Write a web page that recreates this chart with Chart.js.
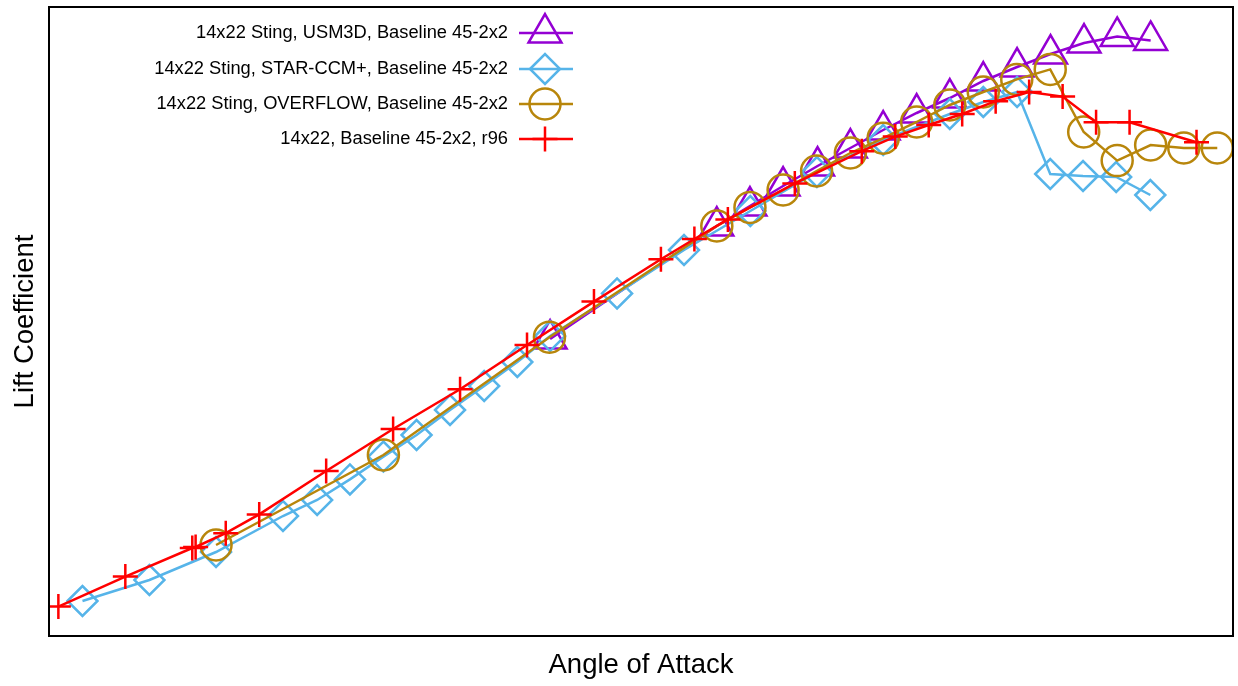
<!DOCTYPE html>
<html lang="en">
<head>
  <meta charset="UTF-8">
  <title>Lift Coefficient vs Angle of Attack</title>
  <script src="https://cdn.jsdelivr.net/npm/chart.js"></script>
  <style>
    html, body {
      margin: 0;
      padding: 0;
      background: #fff;
    }
    canvas {
      display: block;
    }
  </style>
</head>
<body>
  <canvas id="liftChart" width="1238" height="686"></canvas>

  <script>
    // values (no tick labels in the original, units are alpha in deg / CL)
    const usm3dAlpha = [10.69, 15.67, 16.66, 17.65, 18.68, 19.66, 20.64, 21.64, 22.63, 23.63, 24.64, 25.64, 26.64, 27.63, 28.63];
    const usm3dCL    = [1.485, 2.05, 2.15, 2.25, 2.35, 2.44, 2.53, 2.615, 2.69, 2.775, 2.845, 2.91, 2.965, 2.998, 2.978];

    const starAlpha = [-3.28, -1.28, 0.71, 2.71, 3.73, 4.71, 5.71, 6.70, 7.70, 8.72, 9.71, 10.69, 12.69, 14.69, 16.67, 18.66, 20.64, 22.63, 23.63, 24.64, 25.63, 26.61, 27.60, 28.62];
    const starCL    = [0.175, 0.28, 0.42, 0.60, 0.68, 0.783, 0.897, 1.005, 1.13, 1.25, 1.37, 1.50, 1.713, 1.93, 2.125, 2.32, 2.48, 2.61, 2.67, 2.72, 2.31, 2.30, 2.295, 2.205];

    const overflowAlpha = [0.71, 5.71, 10.67, 15.67, 16.66, 17.65, 18.65, 19.66, 20.64, 21.64, 22.63, 23.63, 24.63, 25.63, 26.63, 27.63, 28.63, 29.62, 30.62];
    const overflowCL    = [0.455, 0.905, 1.494, 2.05, 2.143, 2.23, 2.325, 2.415, 2.489, 2.57, 2.655, 2.72, 2.783, 2.833, 2.52, 2.377, 2.455, 2.44, 2.44];

    const r96Alpha = [-4, -2, 0, 0.1, 1, 2, 4, 6, 8, 10, 12, 14, 15, 16, 18, 20, 21, 22, 23, 24, 25, 26, 27, 28, 30];
    const r96CL    = [0.147, 0.297, 0.44, 0.445, 0.514, 0.608, 0.825, 1.035, 1.234, 1.455, 1.672, 1.884, 1.985, 2.083, 2.263, 2.424, 2.497, 2.555, 2.61, 2.674, 2.72, 2.697, 2.569, 2.569, 2.469];

    const seriesNames = [
      "14x22 Sting, USM3D, Baseline 45-2x2",
      "14x22 Sting, STAR-CCM+, Baseline 45-2x2",
      "14x22 Sting, OVERFLOW, Baseline 45-2x2",
      "14x22, Baseline 45-2x2, r96"
    ];

    const FONT = '"Liberation Sans", Arial, Helvetica, sans-serif';
    Chart.defaults.font.family = FONT;
    Chart.defaults.color = "#000";

    function toXY(xs, ys) {
      return xs.map((x, i) => ({ x: x, y: ys[i] }));
    }

    function series(label, xs, ys, color, style, radius, order) {
      return {
        label: label,
        data: toXY(xs, ys),
        borderColor: color,
        backgroundColor: "transparent",
        borderWidth: 2.5,
        pointStyle: style,
        pointRadius: radius,
        pointHoverRadius: radius,
        pointBorderWidth: 2.5,
        pointBorderColor: color,
        pointBackgroundColor: "transparent",
        tension: 0,
        fill: false,
        order: order
      };
    }

    // gnuplot style key: text right aligned, sample line + marker on the right
    const frameAndKey = {
      id: "frameAndKey",
      afterDatasetsDraw(chart) {
        const ctx = chart.ctx;
        const a = chart.chartArea;
        ctx.save();
        ctx.strokeStyle = "#000";
        ctx.lineWidth = 2;
        ctx.strokeRect(a.left, a.top, a.right - a.left, a.bottom - a.top);

        const rows = [33, 69, 104, 139];
        ctx.font = "18.3px " + FONT;
        ctx.textAlign = "right";
        ctx.textBaseline = "middle";
        chart.data.datasets.forEach((ds, i) => {
          const y = rows[i];
          ctx.fillStyle = "#000";
          ctx.fillText(ds.label, 508, y);
          ctx.strokeStyle = ds.borderColor;
          ctx.lineWidth = 2.5;
          ctx.beginPath();
          ctx.moveTo(519, y);
          ctx.lineTo(573, y);
          ctx.stroke();
          ctx.fillStyle = "rgba(0,0,0,0)";
          Chart.helpers.drawPoint(ctx, {
            pointStyle: ds.pointStyle,
            radius: ds.pointRadius,
            rotation: 0,
            borderWidth: 2.5
          }, 545, y);
        });
        ctx.restore();
      }
    };

    new Chart(document.getElementById("liftChart"), {
      type: "line",
      data: {
        datasets: [
          series(seriesNames[0], usm3dAlpha, usm3dCL, "#9400d3", "triangle", 19, 3),
          series(seriesNames[1], starAlpha, starCL, "#56b4e9", "rectRot", 15, 2),
          series(seriesNames[2], overflowAlpha, overflowCL, "#b8860b", "circle", 15.5, 1),
          series(seriesNames[3], r96Alpha, r96CL, "#ff0000", "cross", 12.5, 0)
        ]
      },
      options: {
        responsive: false,
        animation: false,
        layout: {
          autoPadding: false,
          padding: { top: 7, right: 5, left: 0, bottom: 0 }
        },
        plugins: {
          legend: { display: false },
          tooltip: { enabled: false }
        },
        scales: {
          x: {
            type: "linear",
            min: -4.28,
            max: 31.09,
            grid: { display: false, drawTicks: false },
            border: { display: false },
            ticks: { display: false },
            title: {
              display: true,
              text: "Angle of Attack",
              font: { size: 27.5 },
              padding: { top: 0, bottom: 4 }
            },
            afterFit(s) { s.height = 50; }
          },
          y: {
            type: "linear",
            min: 0,
            max: 3.145,
            grid: { display: false, drawTicks: false },
            border: { display: false },
            ticks: { display: false },
            title: {
              display: true,
              text: "Lift Coefficient",
              font: { size: 27.5 },
              padding: { top: 9, bottom: 0 }
            },
            afterFit(s) { s.width = 49; }
          }
        }
      },
      plugins: [frameAndKey]
    });
  </script>
</body>
</html>
